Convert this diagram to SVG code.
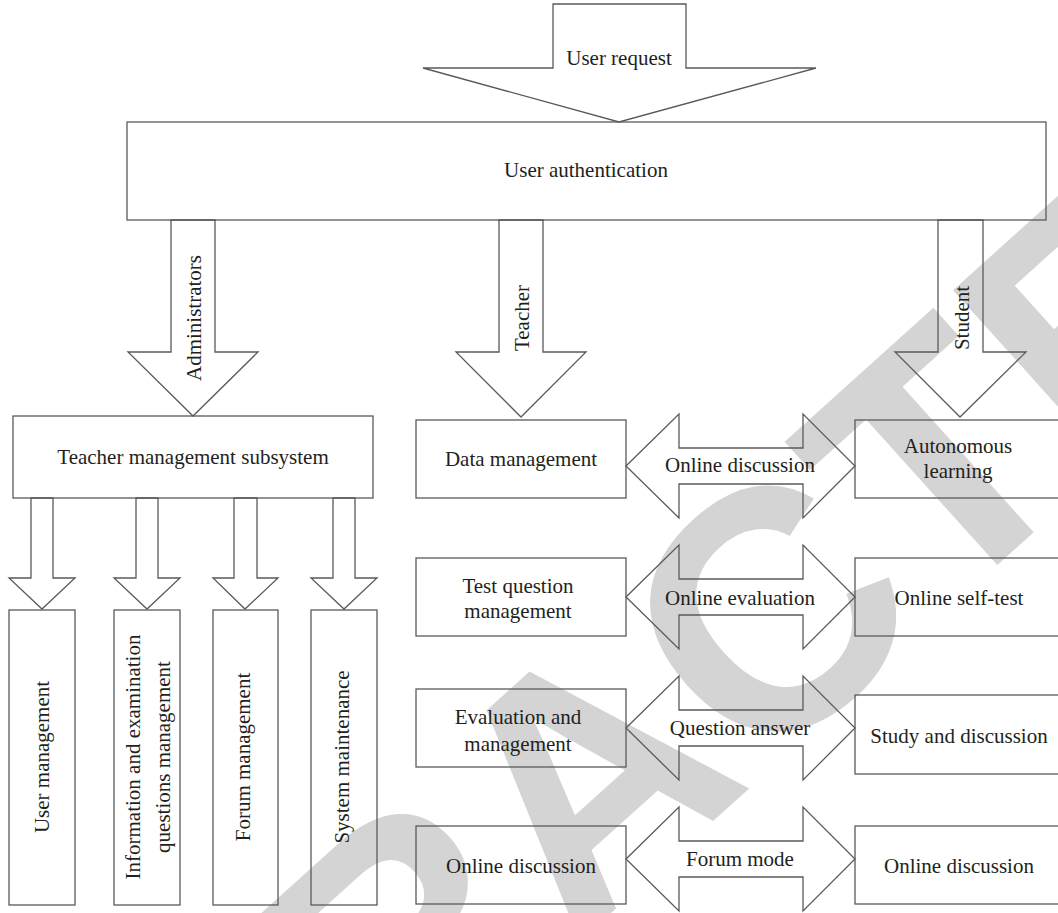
<svg xmlns="http://www.w3.org/2000/svg" width="1058" height="913" viewBox="0 0 1058 913">
<style>
.s{fill:none;stroke:#5a5a5a;stroke-width:1.3;stroke-linejoin:miter}
.t{font-family:"Liberation Serif","Times New Roman",serif;font-size:21px;fill:#231f20;text-anchor:middle}
.wm{font-family:"Liberation Sans",Arial,sans-serif;font-weight:bold;font-size:340px;fill:#d4d4d4;text-anchor:middle}
</style>
<rect width="1058" height="913" fill="#ffffff"/>
<text class="wm" transform="translate(583,774) rotate(-42)" y="122">RETRACTED</text>
<g id="connectors">
<polygon class="s" points="553,4 686,4 686,68 816,68 619,122 423,68 553,68"/>
<polygon class="s" points="171,220 215,220 215,352 258,352 193,416 128,352 171,352"/>
<polygon class="s" points="499,220 543,220 543,352 586,352 521,417 456,352 499,352"/>
<polygon class="s" points="938,220 983,220 983,352 1026,352 960,417 895,352 938,352"/>
<polygon class="s" points="31,498 53,498 53,578 75,578 42,609 9,578 31,578"/>
<polygon class="s" points="136,498 158,498 158,578 180,578 147,609 114,578 136,578"/>
<polygon class="s" points="234,498 257,498 257,578 278,578 245,609 213,578 234,578"/>
<polygon class="s" points="333,498 355,498 355,578 377,578 344,609 311,578 333,578"/>
<polygon class="s" points="626,466 679,414 679,448 803,448 803,414 855,466 803,518 803,484 679,484 679,518"/>
<polygon class="s" points="626,597 679,545 679,579 803,579 803,545 855,597 803,649 803,615 679,615 679,649"/>
<polygon class="s" points="626,728 679,676 679,710 803,710 803,676 855,728 803,780 803,746 679,746 679,780"/>
<polygon class="s" points="626,859 679,807 679,841 803,841 803,807 855,859 803,911 803,877 679,877 679,911"/>
<text class="t" x="619" y="65">User request</text>
<text class="t" transform="translate(194,318) rotate(-90)" y="7">Administrators</text>
<text class="t" transform="translate(522,318) rotate(-90)" y="7">Teacher</text>
<text class="t" transform="translate(962,318) rotate(-90)" y="7">Student</text>
<text class="t" x="740" y="472">Online discussion</text>
<text class="t" x="740" y="605">Online evaluation</text>
<text class="t" x="740" y="735">Question answer</text>
<text class="t" x="740" y="866">Forum mode</text>
</g>
<g id="auth"><rect class="s" x="127" y="122" width="919" height="98"/><text class="t" x="586" y="177">User authentication</text></g>
<g id="tms"><rect class="s" x="13" y="416" width="360" height="82"/><text class="t" x="193" y="464">Teacher management subsystem</text></g>
<g id="um"><rect class="s" x="9" y="610" width="66" height="295"/><text class="t" transform="translate(42,757) rotate(-90)" y="7">User management</text></g>
<g id="ieq"><rect class="s" x="114" y="610" width="66" height="295"/><text class="t" transform="translate(133,757) rotate(-90)" y="7">Information and examination</text><text class="t" transform="translate(163,757) rotate(-90)" y="7">questions management</text></g>
<g id="fm"><rect class="s" x="213" y="610" width="65" height="295"/><text class="t" transform="translate(243,757) rotate(-90)" y="7">Forum management</text></g>
<g id="sm"><rect class="s" x="311" y="610" width="66" height="295"/><text class="t" transform="translate(342,757) rotate(-90)" y="7">System maintenance</text></g>
<g id="dm"><rect class="s" x="416" y="420" width="210" height="78"/><text class="t" x="521" y="466">Data management</text></g>
<g id="tqm"><rect class="s" x="416" y="558" width="210" height="78"/><text class="t" x="518" y="593">Test question</text><text class="t" x="518" y="618">management</text></g>
<g id="eam"><rect class="s" x="416" y="689" width="210" height="78"/><text class="t" x="518" y="724">Evaluation and</text><text class="t" x="518" y="751">management</text></g>
<g id="odl"><rect class="s" x="416" y="826" width="210" height="78"/><text class="t" x="521" y="873">Online discussion</text></g>
<g id="al"><rect class="s" x="855" y="420" width="210" height="78"/><text class="t" x="958" y="453">Autonomous</text><text class="t" x="958" y="478">learning</text></g>
<g id="ost"><rect class="s" x="855" y="558" width="210" height="78"/><text class="t" x="959" y="605">Online self-test</text></g>
<g id="sad"><rect class="s" x="855" y="695" width="210" height="79"/><text class="t" x="959" y="743">Study and discussion</text></g>
<g id="odr"><rect class="s" x="855" y="826" width="210" height="78"/><text class="t" x="959" y="873">Online discussion</text></g>
</svg>
